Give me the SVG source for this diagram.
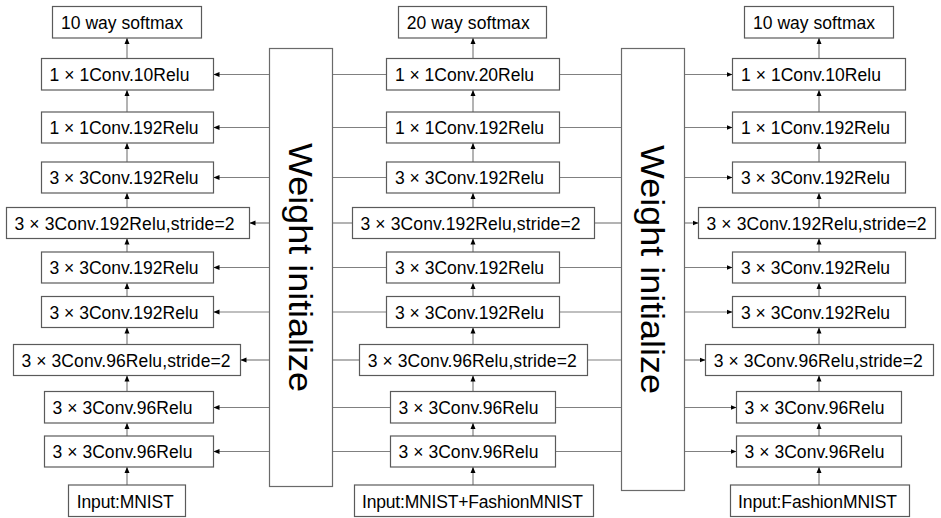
<svg xmlns="http://www.w3.org/2000/svg" width="941" height="518" viewBox="0 0 941 518">
<style>
.b{fill:#fff;stroke:#5a5a5a;stroke-width:1.2}
.w{fill:#fff;stroke:#6a6a6a;stroke-width:1.2}
.t{font-family:"Liberation Sans",Arial,sans-serif;font-size:17.5px;fill:#000}
.wt{font-family:"Liberation Sans",Arial,sans-serif;font-size:34px;fill:#000}
.c{stroke:#808080;stroke-width:1.2;fill:none}
.a{stroke:#808080;stroke-width:1.2;fill:none;marker-end:url(#ah)}
</style>
<defs>
<marker id="ah" markerUnits="userSpaceOnUse" markerWidth="6" markerHeight="6" refX="6" refY="3" orient="auto">
<path d="M0,0.5 L6,3 L0,5.5 Z" fill="#000"/>
</marker>
</defs>
<rect fill="#fff" x="0" y="0" width="941" height="518"/>

<g id="connectors">
<!-- left column vertical -->
<line class="a" x1="127" y1="58.5" x2="127" y2="38"/>
<line class="a" x1="127" y1="112" x2="127" y2="90"/>
<line class="a" x1="127" y1="162" x2="127" y2="143"/>
<line class="a" x1="127" y1="207.5" x2="127" y2="193"/>
<line class="a" x1="127" y1="252" x2="127" y2="238.5"/>
<line class="a" x1="127" y1="296.5" x2="127" y2="283"/>
<line class="a" x1="127" y1="344.5" x2="127" y2="327.5"/>
<line class="a" x1="127" y1="391.5" x2="127" y2="375.5"/>
<line class="a" x1="127" y1="436" x2="127" y2="423"/>
<line class="a" x1="127" y1="485" x2="127" y2="467"/>
<!-- middle column vertical -->
<line class="a" x1="473" y1="58.5" x2="473" y2="38"/>
<line class="a" x1="473" y1="112" x2="473" y2="90"/>
<line class="a" x1="473" y1="162" x2="473" y2="143"/>
<line class="a" x1="473" y1="207.5" x2="473" y2="193"/>
<line class="a" x1="473" y1="252" x2="473" y2="238.5"/>
<line class="a" x1="473" y1="296.5" x2="473" y2="283"/>
<line class="a" x1="473" y1="344.5" x2="473" y2="327.5"/>
<line class="a" x1="473" y1="391.5" x2="473" y2="375.5"/>
<line class="a" x1="473" y1="436" x2="473" y2="423"/>
<line class="a" x1="473" y1="485" x2="473" y2="467"/>
<!-- right column vertical -->
<line class="a" x1="819" y1="58.5" x2="819" y2="38"/>
<line class="a" x1="819" y1="112" x2="819" y2="90"/>
<line class="a" x1="819" y1="162" x2="819" y2="143"/>
<line class="a" x1="819" y1="207.5" x2="819" y2="193"/>
<line class="a" x1="819" y1="252" x2="819" y2="238.5"/>
<line class="a" x1="819" y1="296.5" x2="819" y2="283"/>
<line class="a" x1="819" y1="344.5" x2="819" y2="327.5"/>
<line class="a" x1="819" y1="391.5" x2="819" y2="375.5"/>
<line class="a" x1="819" y1="436" x2="819" y2="423"/>
<line class="a" x1="819" y1="485" x2="819" y2="467"/>
<!-- left weight box to left column -->
<line class="a" x1="269.5" y1="74.5" x2="213.5" y2="74.5"/>
<line class="a" x1="269.5" y1="127.5" x2="213.5" y2="127.5"/>
<line class="a" x1="269.5" y1="177.5" x2="213.5" y2="177.5"/>
<line class="a" x1="269.5" y1="223" x2="249.5" y2="223"/>
<line class="a" x1="269.5" y1="267.5" x2="213.5" y2="267.5"/>
<line class="a" x1="269.5" y1="312" x2="213.5" y2="312"/>
<line class="a" x1="269.5" y1="360" x2="240.5" y2="360"/>
<line class="a" x1="269.5" y1="407.5" x2="213.5" y2="407.5"/>
<line class="a" x1="269.5" y1="451.5" x2="213.5" y2="451.5"/>
<!-- middle column to left weight box -->
<line class="c" x1="332.5" y1="74.5" x2="386.5" y2="74.5"/>
<line class="c" x1="332.5" y1="127.5" x2="386.5" y2="127.5"/>
<line class="c" x1="332.5" y1="177.5" x2="386.5" y2="177.5"/>
<line class="c" x1="332.5" y1="223" x2="352.5" y2="223"/>
<line class="c" x1="332.5" y1="267.5" x2="386.5" y2="267.5"/>
<line class="c" x1="332.5" y1="312" x2="386.5" y2="312"/>
<line class="c" x1="332.5" y1="360" x2="359.5" y2="360"/>
<line class="c" x1="332.5" y1="407.5" x2="390.5" y2="407.5"/>
<line class="c" x1="332.5" y1="451.5" x2="390.5" y2="451.5"/>
<!-- middle column to right weight box -->
<line class="c" x1="559.5" y1="74.5" x2="621.5" y2="74.5"/>
<line class="c" x1="559.5" y1="127.5" x2="621.5" y2="127.5"/>
<line class="c" x1="559.5" y1="177.5" x2="621.5" y2="177.5"/>
<line class="c" x1="594.5" y1="223" x2="621.5" y2="223"/>
<line class="c" x1="559.5" y1="267.5" x2="621.5" y2="267.5"/>
<line class="c" x1="559.5" y1="312" x2="621.5" y2="312"/>
<line class="c" x1="587.5" y1="360" x2="621.5" y2="360"/>
<line class="c" x1="555.5" y1="407.5" x2="621.5" y2="407.5"/>
<line class="c" x1="555.5" y1="451.5" x2="621.5" y2="451.5"/>
<!-- right weight box to right column -->
<line class="a" x1="684.5" y1="74.5" x2="732.5" y2="74.5"/>
<line class="a" x1="684.5" y1="127.5" x2="732.5" y2="127.5"/>
<line class="a" x1="684.5" y1="177.5" x2="732.5" y2="177.5"/>
<line class="a" x1="684.5" y1="223" x2="698.5" y2="223"/>
<line class="a" x1="684.5" y1="267.5" x2="732.5" y2="267.5"/>
<line class="a" x1="684.5" y1="312" x2="732.5" y2="312"/>
<line class="a" x1="684.5" y1="360" x2="705.5" y2="360"/>
<line class="a" x1="684.5" y1="407.5" x2="736.5" y2="407.5"/>
<line class="a" x1="684.5" y1="451.5" x2="736.5" y2="451.5"/>
</g>

<g id="weight-init-left">
<rect class="w" x="269.5" y="48.5" width="63" height="438"/>
<text class="wt" transform="translate(289,267.5) rotate(90)" text-anchor="middle" textLength="249" lengthAdjust="spacingAndGlyphs">Weight initialize</text>
</g>
<g id="weight-init-right">
<rect class="w" x="621.5" y="48.5" width="63" height="442"/>
<text class="wt" transform="translate(641,269.5) rotate(90)" text-anchor="middle" textLength="249" lengthAdjust="spacingAndGlyphs">Weight initialize</text>
</g>

<!-- Left column -->
<g id="L0"><rect class="b" x="52.5" y="6.5" width="149" height="31.5"/><text class="t" x="61" y="29" textLength="122">10 way softmax</text></g>
<g id="L1"><rect class="b" x="41.5" y="58.5" width="172" height="31.5"/><text class="t" x="49.5" y="80.8" textLength="140">1 × 1Conv.10Relu</text></g>
<g id="L2"><rect class="b" x="41.5" y="112" width="172" height="31"/><text class="t" x="49.5" y="134" textLength="149">1 × 1Conv.192Relu</text></g>
<g id="L3"><rect class="b" x="41.5" y="162" width="172" height="31"/><text class="t" x="49.5" y="184" textLength="149">3 × 3Conv.192Relu</text></g>
<g id="L4"><rect class="b" x="6.5" y="207.5" width="243" height="31"/><text class="t" x="14.5" y="229.5" textLength="220">3 × 3Conv.192Relu,stride=2</text></g>
<g id="L5"><rect class="b" x="41.5" y="252" width="172" height="31"/><text class="t" x="49.5" y="274" textLength="149">3 × 3Conv.192Relu</text></g>
<g id="L6"><rect class="b" x="41.5" y="296.5" width="172" height="31"/><text class="t" x="49.5" y="318.5" textLength="149">3 × 3Conv.192Relu</text></g>
<g id="L7"><rect class="b" x="13.5" y="344.5" width="227" height="31"/><text class="t" x="21.5" y="366.5" textLength="209">3 × 3Conv.96Relu,stride=2</text></g>
<g id="L8"><rect class="b" x="44.5" y="391.5" width="169" height="31.5"/><text class="t" x="52.5" y="414" textLength="140">3 × 3Conv.96Relu</text></g>
<g id="L9"><rect class="b" x="44.5" y="436" width="169" height="31"/><text class="t" x="52.5" y="458" textLength="140">3 × 3Conv.96Relu</text></g>
<g id="L10"><rect class="b" x="68.5" y="485" width="117" height="31.5"/><text class="t" x="76.7" y="507.5" textLength="97">Input:MNIST</text></g>

<!-- Middle column -->
<g id="M0"><rect class="b" x="398.5" y="6.5" width="148" height="31.5"/><text class="t" x="406.7" y="29" textLength="123">20 way softmax</text></g>
<g id="M1"><rect class="b" x="386.5" y="58.5" width="173" height="31.5"/><text class="t" x="395" y="80.8" textLength="139">1 × 1Conv.20Relu</text></g>
<g id="M2"><rect class="b" x="386.5" y="112" width="173" height="31"/><text class="t" x="395" y="134" textLength="149">1 × 1Conv.192Relu</text></g>
<g id="M3"><rect class="b" x="386.5" y="162" width="173" height="31"/><text class="t" x="395" y="184" textLength="149">3 × 3Conv.192Relu</text></g>
<g id="M4"><rect class="b" x="352.5" y="207.5" width="242" height="31"/><text class="t" x="360.5" y="229.5" textLength="220">3 × 3Conv.192Relu,stride=2</text></g>
<g id="M5"><rect class="b" x="386.5" y="252" width="173" height="31"/><text class="t" x="395" y="274" textLength="149">3 × 3Conv.192Relu</text></g>
<g id="M6"><rect class="b" x="386.5" y="296.5" width="173" height="31"/><text class="t" x="395" y="318.5" textLength="149">3 × 3Conv.192Relu</text></g>
<g id="M7"><rect class="b" x="359.5" y="344.5" width="228" height="31"/><text class="t" x="367.7" y="366.5" textLength="209">3 × 3Conv.96Relu,stride=2</text></g>
<g id="M8"><rect class="b" x="390.5" y="391.5" width="165" height="31.5"/><text class="t" x="398.5" y="414" textLength="140">3 × 3Conv.96Relu</text></g>
<g id="M9"><rect class="b" x="390.5" y="436" width="165" height="31"/><text class="t" x="398.5" y="458" textLength="140">3 × 3Conv.96Relu</text></g>
<g id="M10"><rect class="b" x="354.5" y="485" width="239" height="31.5"/><text class="t" x="362" y="507.5" textLength="221">Input:MNIST+FashionMNIST</text></g>

<!-- Right column -->
<g id="R0"><rect class="b" x="744.5" y="6.5" width="149" height="31.5"/><text class="t" x="753" y="29" textLength="122">10 way softmax</text></g>
<g id="R1"><rect class="b" x="732.5" y="58.5" width="173" height="31.5"/><text class="t" x="741" y="80.8" textLength="140">1 × 1Conv.10Relu</text></g>
<g id="R2"><rect class="b" x="732.5" y="112" width="173" height="31"/><text class="t" x="741" y="134" textLength="149">1 × 1Conv.192Relu</text></g>
<g id="R3"><rect class="b" x="732.5" y="162" width="173" height="31"/><text class="t" x="741" y="184" textLength="149">3 × 3Conv.192Relu</text></g>
<g id="R4"><rect class="b" x="698.5" y="207.5" width="237" height="31"/><text class="t" x="706.5" y="229.5" textLength="220">3 × 3Conv.192Relu,stride=2</text></g>
<g id="R5"><rect class="b" x="732.5" y="252" width="173" height="31"/><text class="t" x="741" y="274" textLength="149">3 × 3Conv.192Relu</text></g>
<g id="R6"><rect class="b" x="732.5" y="296.5" width="173" height="31"/><text class="t" x="741" y="318.5" textLength="149">3 × 3Conv.192Relu</text></g>
<g id="R7"><rect class="b" x="705.5" y="344.5" width="228" height="31"/><text class="t" x="713.7" y="366.5" textLength="209">3 × 3Conv.96Relu,stride=2</text></g>
<g id="R8"><rect class="b" x="736.5" y="391.5" width="165" height="31.5"/><text class="t" x="744.5" y="414" textLength="140">3 × 3Conv.96Relu</text></g>
<g id="R9"><rect class="b" x="736.5" y="436" width="165" height="31"/><text class="t" x="744.5" y="458" textLength="140">3 × 3Conv.96Relu</text></g>
<g id="R10"><rect class="b" x="730.5" y="485" width="179" height="31.5"/><text class="t" x="738" y="507.5" textLength="159">Input:FashionMNIST</text></g>
</svg>
